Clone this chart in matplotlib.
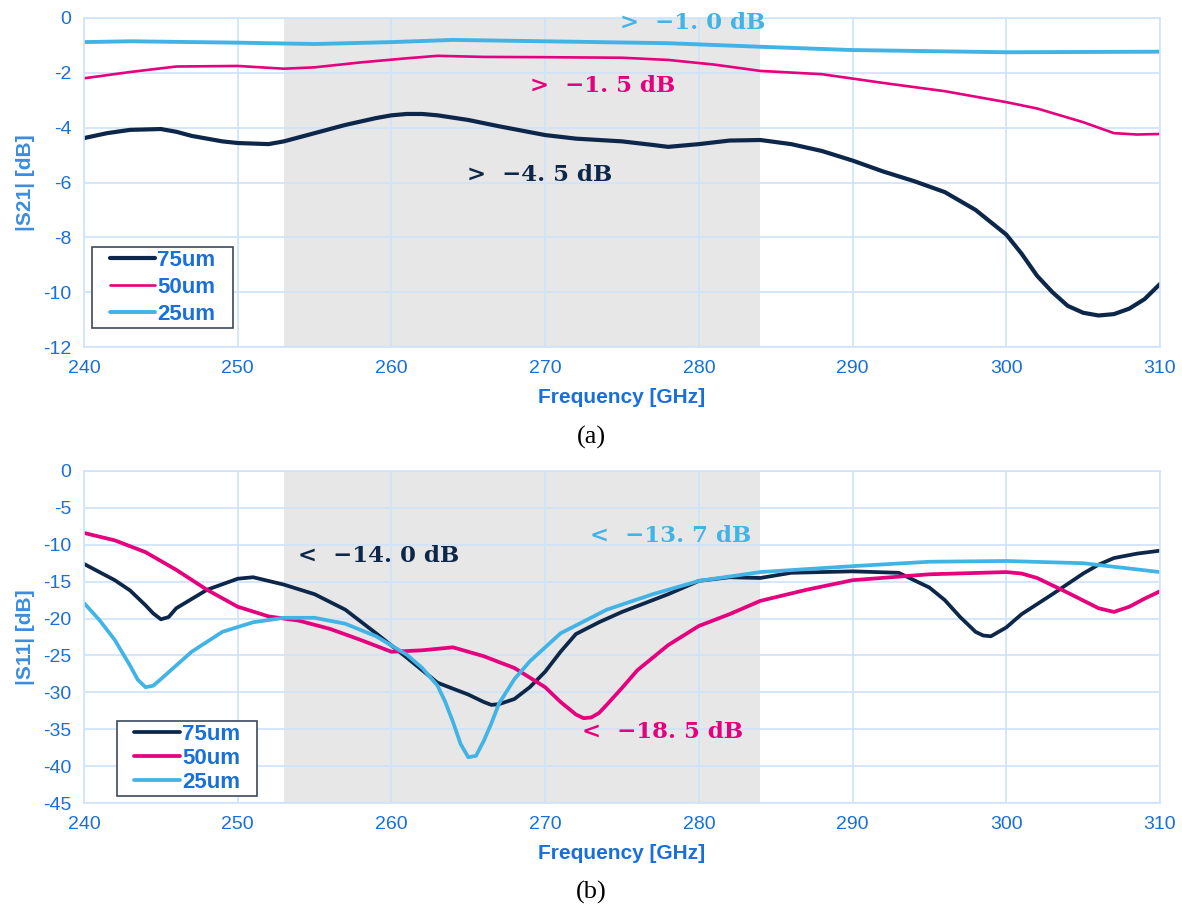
import numpy as np
import matplotlib
matplotlib.use("Agg")
import matplotlib.pyplot as plt
from matplotlib.patches import Rectangle

plt.rcParams["font.family"] = ["Liberation Sans", "DejaVu Sans"]
plt.rcParams["axes.unicode_minus"] = False

# |S21| data (GHz, dB)
f21_75 = [240, 241.5, 243, 245, 246, 247, 249, 250, 252, 253, 255, 257, 259, 260, 261, 262, 263, 265,
          267, 270, 272, 275, 277, 278, 280, 282, 284, 286, 288, 290, 292, 294, 296, 298, 300, 301,
          302, 303, 304, 305, 306, 307, 308, 309, 310]
s21_75 = [-4.38, -4.2, -4.08, -4.05, -4.15, -4.3, -4.5, -4.56, -4.6, -4.5, -4.2, -3.9, -3.65, -3.55,
          -3.5, -3.5, -3.55, -3.72, -3.95, -4.27, -4.4, -4.5, -4.63, -4.7, -4.6, -4.47, -4.45, -4.6,
          -4.85, -5.2, -5.6, -5.95, -6.35, -7.0, -7.9, -8.6, -9.4, -10.0, -10.5, -10.75, -10.85,
          -10.8, -10.6, -10.25, -9.7]
f21_50 = [240, 243, 246, 250, 253, 255, 258, 261, 263, 266, 270, 275, 278, 281, 284, 288, 292,
          296, 300, 302, 305, 306, 307, 308.5, 310]
s21_50 = [-2.2, -1.97, -1.77, -1.75, -1.85, -1.8, -1.62, -1.47, -1.38, -1.42, -1.43, -1.45, -1.53,
          -1.7, -1.93, -2.05, -2.37, -2.67, -3.07, -3.3, -3.8, -4.0, -4.2, -4.25, -4.23]
f21_25 = [240, 243, 250, 255, 260, 264, 270, 278, 284, 290, 300, 310]
s21_25 = [-0.88, -0.85, -0.9, -0.95, -0.88, -0.8, -0.85, -0.92, -1.05, -1.17, -1.25, -1.23]

# |S11| data (GHz, dB)
f11_75 = [240, 242, 243, 244, 244.5, 245, 245.5, 246, 248, 250, 251, 253, 255, 257, 259, 261, 263,
          264, 265, 266, 266.5, 267, 268, 269, 270, 271, 272, 273.5, 275, 278, 280, 282, 284, 286,
          290, 293, 295, 296, 297, 298, 298.5, 299, 300, 301, 303, 305, 306, 307, 308.5, 310]
s11_75 = [-12.6, -14.8, -16.2, -18.2, -19.3, -20.1, -19.8, -18.6, -16.1, -14.6, -14.4, -15.4, -16.7,
          -18.8, -22.0, -25.3, -28.7, -29.5, -30.3, -31.3, -31.7, -31.6, -30.9, -29.3, -27.2, -24.5,
          -22.1, -20.5, -19.1, -16.7, -14.9, -14.4, -14.5, -13.8, -13.6, -13.8, -15.8, -17.5,
          -19.8, -21.8, -22.3, -22.4, -21.2, -19.4, -16.7, -13.9, -12.7, -11.8, -11.2, -10.8]
f11_50 = [240, 242, 244, 246, 248, 250, 252, 254, 256, 258, 260, 262, 264, 266, 268, 270, 271,
          272, 272.5, 273, 273.5, 274, 275, 276, 278, 280, 282, 284, 287, 290, 295, 300, 301,
          302, 304, 306, 307, 308, 309, 310]
s11_50 = [-8.4, -9.4, -11.0, -13.4, -16.1, -18.4, -19.7, -20.3, -21.4, -22.9, -24.5, -24.3, -23.9,
          -25.1, -26.7, -29.3, -31.3, -33.0, -33.5, -33.4, -32.8, -31.7, -29.4, -27.0, -23.6, -21.0,
          -19.4, -17.6, -16.1, -14.8, -14.0, -13.7, -13.9, -14.5, -16.5, -18.6, -19.1, -18.4,
          -17.3, -16.3]
f11_25 = [240, 241, 242, 243, 243.5, 244, 244.5, 245, 247, 249, 251, 253, 255, 257, 259, 261, 262,
          263, 263.5, 264, 264.5, 265, 265.5, 266, 266.5, 267, 268, 269, 271, 274, 277, 280, 284,
          290, 295, 300, 305, 310]
s11_25 = [-17.9, -20.2, -22.9, -26.4, -28.3, -29.3, -29.1, -28.2, -24.5, -21.8, -20.5, -19.9,
          -19.9, -20.7, -22.4, -24.9, -26.7, -29.1, -31.3, -34.0, -37.0, -38.8, -38.6, -36.6,
          -34.2, -31.5, -28.2, -25.8, -22.0, -18.8, -16.7, -14.9, -13.7, -12.9, -12.3, -12.2,
          -12.5, -13.7]

band = (253, 284)
c75, c50, c25 = "#0c2749", "#e5007d", "#41b4e5"
blue = "#1a6fd8"
grid_c = "#d0e3fb"

fig = plt.figure(figsize=(11.82, 9.08), dpi=100)
ax1 = fig.add_axes([0.0711, 0.6178, 0.9103, 0.3624])
ax2 = fig.add_axes([0.0711, 0.1156, 0.9103, 0.3657])


def style(ax, ylim, ystep, ylabel):
    ax.axvspan(*band, color="#e7e7e7", zorder=0, lw=0)
    ax.set_xlim(240, 310)
    ax.set_ylim(*ylim)
    ax.set_xticks(np.arange(240, 311, 10))
    ax.set_yticks(np.arange(ylim[0], ylim[1] + 0.1, ystep))
    ax.grid(True, color=grid_c, lw=1.2, zorder=0.5)
    ax.set_axisbelow(True)
    for s in ax.spines.values():
        s.set_color(grid_c)
        s.set_linewidth(1.2)
    ax.tick_params(length=0, labelsize=14, colors=blue, pad=9)
    ax.set_xlabel("Frequency [GHz]", fontsize=15, fontweight="bold", color=blue, labelpad=8)
    ax.set_ylabel(ylabel, fontsize=15, fontweight="bold", color="#3b8de0", labelpad=6)


kw = dict(solid_capstyle="round", solid_joinstyle="round")
style(ax1, (-12, 0), 2, "|S21| [dB]")
ax1.plot(f21_75, s21_75, color=c75, lw=3.0, label="75um", **kw)
ax1.plot(f21_50, s21_50, color=c50, lw=1.9, label="50um", **kw)
ax1.plot(f21_25, s21_25, color=c25, lw=2.8, label="25um", **kw)

style(ax2, (-45, 0), 5, "|S11| [dB]")
ax2.plot(f11_75, s11_75, color=c75, lw=2.7, label="75um", **kw)
ax2.plot(f11_50, s11_50, color=c50, lw=2.7, label="50um", **kw)
ax2.plot(f11_25, s11_25, color=c25, lw=2.7, label="25um", **kw)

# legend boxes (axes fraction: x0, y0, x1, y1) and row spacing
for ax, box, lsp in [(ax1, (0.0074, 0.058, 0.1385, 0.304), 0.28),
                     (ax2, (0.0307, 0.021, 0.1608, 0.247), 0.13)]:
    ax.add_patch(Rectangle((box[0], box[1]), box[2] - box[0], box[3] - box[1],
                           transform=ax.transAxes, facecolor="white",
                           edgecolor="#3c4a5c", lw=1.2, zorder=4))
    leg = ax.legend(loc="center", bbox_to_anchor=((box[0] + box[2]) / 2, (box[1] + box[3]) / 2),
                    frameon=False, handlelength=2.05, handletextpad=0.1,
                    borderpad=0, labelspacing=lsp, borderaxespad=0,
                    prop={"size": 16, "weight": "bold"})
    leg.set_zorder(5)
    for t in leg.get_texts():
        t.set_color(blue)

ann = dict(fontsize=16.5, fontweight="bold", family="DejaVu Serif", va="center", ha="left")
ax1.text(274.9, -0.2, ">  \u22121. 0 dB", color=c25, **ann)
ax1.text(269.0, -2.48, ">  \u22121. 5 dB", color=c50, **ann)
ax1.text(264.9, -5.73, ">  \u22124. 5 dB", color=c75, **ann)
ax2.text(253.9, -11.5, "<  \u221214. 0 dB", color=c75, **ann)
ax2.text(272.9, -8.8, "<  \u221213. 7 dB", color=c25, **ann)
ax2.text(272.4, -35.4, "<  \u221218. 5 dB", color=c50, **ann)

fig.text(0.5, 1 - 437 / 908, "(a)", ha="center", va="center", fontsize=19,
         family="Liberation Serif")
fig.text(0.5, 1 - 892 / 908, "(b)", ha="center", va="center", fontsize=19,
         family="Liberation Serif")

fig.savefig("out.png", dpi=100)
